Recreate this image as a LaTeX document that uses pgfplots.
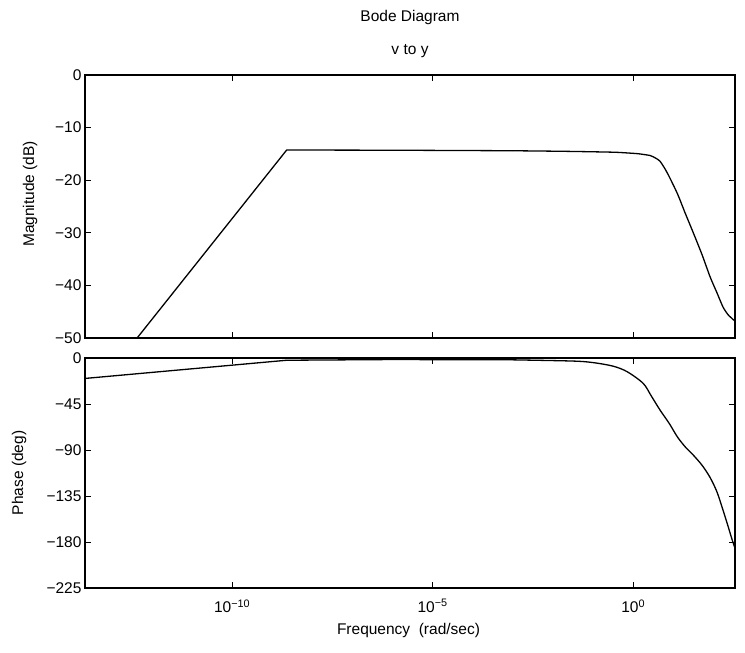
\documentclass[border=0pt]{standalone}
\usepackage{fontspec}
\setmainfont{Liberation Sans}
\usepackage{pgfplots}
\pgfplotsset{compat=1.18}
\pgfplotsset{
  every axis/.append style={
    font=\fontsize{15.5}{18}\selectfont,
    scale only axis,
    width=650pt,
    xmode=log,
    xmin=2.138e-14, xmax=346.7,
    xtick={1e-10,1e-5,1},
    minor xtick={},
    axis line style={line width=1.1pt},
    major tick length=6pt,
    tick style={line width=0.9pt, black},
    tick align=inside,
    tick label style={font=\fontsize{15.5}{18}\selectfont},
    /pgf/number format/assume math mode=true,
    clip=true,
  },
  curve/.style={black, line width=1.3pt, no marks},
}
\begin{document}
\begin{tikzpicture}
\path[use as bounding box] (0pt,0pt) rectangle (745pt,653pt);
\node[font=\fontsize{15.5}{18}\selectfont] at (410pt,635pt) {Bode Diagram};
\node[font=\fontsize{15.5}{18}\selectfont] at (410pt,602pt) {v to y};
% Magnitude
\begin{axis}[
  at={(85pt,315pt)}, anchor=south west,
  height=263pt,
  ymin=-50, ymax=0,
  ytick={-50,-40,-30,-20,-10,0},
  yticklabels={−50,−40,−30,−20,−10,0},
  xticklabels={},
  ylabel={Magnitude (dB)},
  ylabel style={at={(axis description cs:-0.0846,0.548)}, anchor=center},
]
\addplot[curve] coordinates {
(2.138e-14,-62.5) (4.266e-13,-50) (2.291e-9,-14.26) (1e-6,-14.3) (1e-3,-14.4)
};
\addplot[curve, smooth, tension=0.4] coordinates {
(1e-3,-14.4) (0.01585,-14.5) (0.1,-14.6) (0.389,-14.7) (1.259,-14.95)
(1.778,-15.1) (2.630,-15.3) (3.162,-15.55) (4.677,-16.4) (7.079,-18.6)
(12.59,-22.5) (19.95,-26.3) (31.62,-30.0) (52.48,-34.2) (83.18,-38.4)
(123.0,-41.4) (173.8,-44.1) (234.4,-45.6) (346.7,-46.8)
};
\end{axis}
% Phase
\begin{axis}[
  at={(85pt,65pt)}, anchor=south west,
  height=230pt,
  ymin=-225, ymax=0,
  ytick={-225,-180,-135,-90,-45,0},
  yticklabels={−225,−180,−135,−90,−45,0},
  xticklabels={10\textsuperscript{−10},10\textsuperscript{−5},10\textsuperscript{0}},
  xticklabel style={yshift=-8pt},
  ylabel={Phase (deg)},
  ylabel style={at={(axis description cs:-0.1015,0.5)}, anchor=center},
  xlabel={Frequency\ \ (rad/sec)},
  xlabel style={at={(axis description cs:0.4977,-0.1826)}, anchor=center},
]
\addplot[curve] coordinates {
(2.138e-14,-20) (2.291e-9,-2.2) (1e-6,-1.5) (1e-3,-1.8)
};
\addplot[curve, smooth, tension=0.5] coordinates {
(1e-3,-1.8) (0.03162,-3) (0.1,-4.5) (0.3162,-8) (0.708,-13.4)
(1.778,-24.8) (2.818,-37) (4.677,-50.9) (7.943,-64) (12.59,-77)
(19.95,-87) (31.62,-95) (52.48,-105) (83.18,-117) (123.0,-131)
(173.8,-148.7) (234.4,-165) (295.1,-178) (346.7,-186)
};
\end{axis}
\end{tikzpicture}
\end{document}
